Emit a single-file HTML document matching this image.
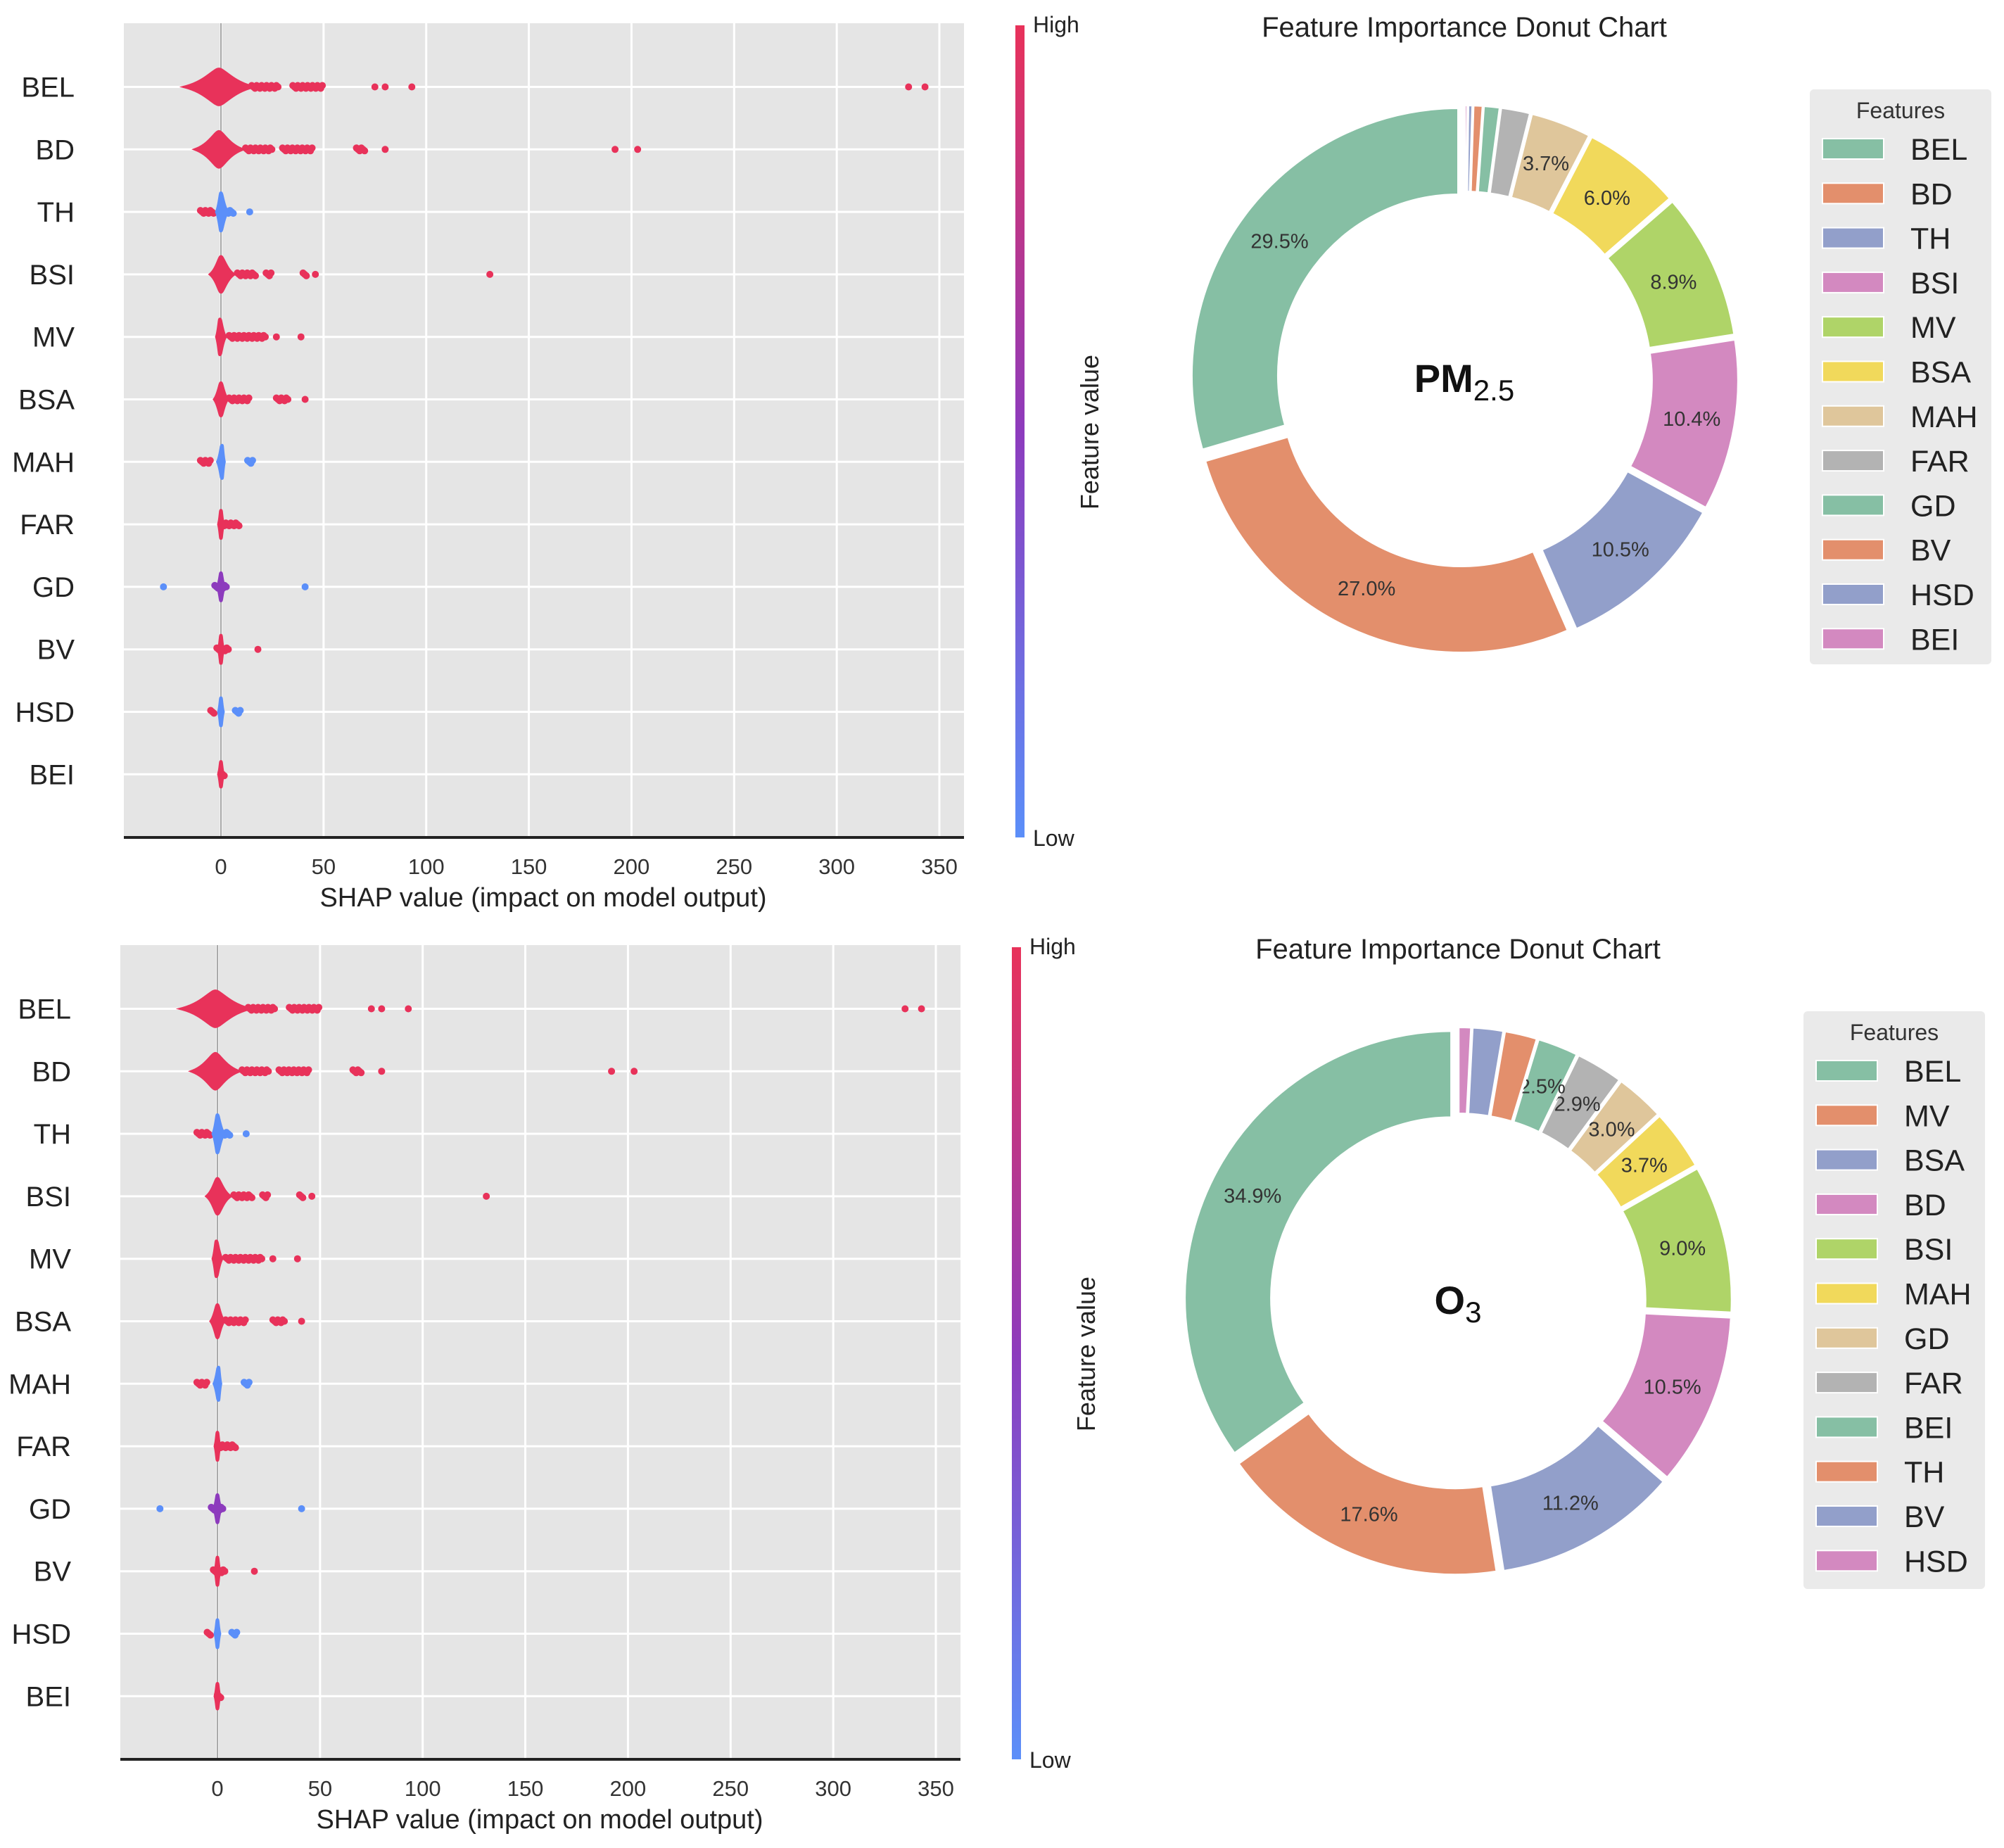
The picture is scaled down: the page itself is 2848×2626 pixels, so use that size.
<!DOCTYPE html>
<html><head><meta charset="utf-8"><style>
html,body{margin:0;padding:0;background:#fff;}
svg{display:block;font-family:"Liberation Sans",Arial,sans-serif;}
</style></head><body>
<svg id="root" width="2848" height="2626" viewBox="0 0 2848 2626" xmlns="http://www.w3.org/2000/svg">
<defs>
<linearGradient id="cbar" x1="0" y1="0" x2="0" y2="1">
<stop offset="0" stop-color="#e8325a"/><stop offset="0.5" stop-color="#8d3bbd"/><stop offset="1" stop-color="#5b8ff9"/>
</linearGradient>
</defs>
</svg>
<script>
// ---------- SHAP data ----------
const features = ["BEL","BD","TH","BSI","MV","BSA","MAH","FAR","GD","BV","HSD","BEI"];
const xTicks = [0,50,100,150,200,250,300,350];
const coreLeft  = [-17,-12,-2,-5,-2,-3,-1.5,-1,-1.5,-1,-1,-1];
const coreRight = [15,10,3,6,2,3,1.5,1,1.5,1,1,1];
const corePeak  = [-1,-1,0,0,-0.5,0,0.5,0,0,0,0,0];
const coreHeight= [0.28,0.28,0.3,0.28,0.28,0.26,0.26,0.22,0.22,0.22,0.22,0.2];
const coreColor = ["r","r","b","r","r","r","b","r","p","r","b","r"];
// tail ranges [row, start, end, color]
const tails = [
 [0,15,28,"r"],[0,35,50,"r"],[1,12,25,"r"],[1,30,45,"r"],[1,66,70,"r"],
 [2,-10,-3,"r"],[2,2,6,"b"],[3,8,17,"r"],[3,22,25,"r"],[3,40,42,"r"],
 [4,4,22,"r"],[5,4,14,"r"],[5,27,33,"r"],[6,-10,-5,"r"],[6,13,16,"b"],
 [7,0,9,"r"],[8,-3,3,"p"],[9,-2,4,"r"],[10,-5,-3,"r"],[10,7,10,"b"],[11,0,2,"r"]
];
// single outliers [row, value, color]
const outliers = [
 [0,75,"r"],[0,80,"r"],[0,93,"r"],[0,335,"r"],[0,343,"r"],
 [1,80,"r"],[1,192,"r"],[1,203,"r"],[2,14,"b"],[3,46,"r"],[3,131,"r"],
 [4,27,"r"],[4,39,"r"],[5,41,"r"],[8,-28,"b"],[8,41,"b"],[9,18,"r"]
];
// ---------- Donut data ----------
const pmLabels = ["BEL","BD","TH","BSI","MV","BSA","MAH","FAR","GD","BV","HSD","BEI"];
const pmValues = [29.5,27.0,10.5,10.4,8.9,6.0,3.7,1.8,1.0,0.6,0.3,0.2];
const o3Labels = ["BEL","MV","BSA","BD","BSI","MAH","GD","FAR","BEI","TH","BV","HSD"];
const o3Values = [34.9,17.6,11.2,10.5,9.0,3.7,3.0,2.9,2.5,2.0,1.9,0.8];
const palette = ["#86bfa4","#e38f6c","#929fca","#d389c0","#afd468","#f1d95b","#dfc69b","#b3b3b3"];

const NS="http://www.w3.org/2000/svg";
const root=document.getElementById('root');
function el(tag,attrs,parent,text){const e=document.createElementNS(NS,tag);for(const k in attrs)e.setAttribute(k,attrs[k]);if(text!==undefined)e.textContent=text;(parent||root).appendChild(e);return e;}
const COL={r:"#e8325a",b:"#5b8ff9",p:"#8d3bbd"};

function drawShap(dx,dy,idx){
  const g=el('g',{transform:`translate(${dx},${dy})`});
  
  
  const L=176,R=1370,T=33,B=1190,x0=314,x350=1335;
  const xs=v=>x0+(x350-x0)*v/350;
  const rowY=i=>123.5+i*88.8;
  const bg=el('rect',{x:L,y:T,width:R-L,height:B-T,fill:"#e5e5e5"},g);
  
  
  xTicks.forEach(t=>{
    const ln=el('line',{x1:xs(t),x2:xs(t),y1:T,y2:B,stroke:"#fff","stroke-width":3},g);
    
    
    const tx=el('text',{x:xs(t),y:1242,"font-size":31,fill:"#333","text-anchor":"middle"},g,String(t));
    
    
  });
  features.forEach((f,i)=>{
    const ln=el('line',{x1:L,x2:R,y1:rowY(i),y2:rowY(i),stroke:"#fff","stroke-width":3},g);
    
    
    const tx=el('text',{x:106,y:rowY(i)+14,"font-size":40,fill:"#222","text-anchor":"end"},g,f);
    
    
  });
  const zl=el('line',{x1:xs(0),x2:xs(0),y1:T,y2:B,stroke:"#aaa","stroke-width":2},g);
  
  
  tails.forEach(t=>{
    const y=rowY(t[0]);let k=0;
    for(let v=t[1];v<=t[2]+0.01;v+=0.8){
      const c=el('circle',{cx:xs(v),cy:y+((k%3)-1)*2,r:5,fill:COL[t[3]]},g);k++;
      
      
    }
  });
  outliers.forEach(o=>{
    const c=el('circle',{cx:xs(o[1]),cy:rowY(o[0]),r:5,fill:COL[o[2]]},g);
    
    
  });
  features.forEach((f,i)=>{
    const y=rowY(i),h=coreHeight[i]*88.8,l=xs(coreLeft[i]),r=xs(coreRight[i]),p=xs(corePeak[i]);
    const d=`M${l},${y} C${p-(p-l)*0.4},${y-h*0.3} ${p-(p-l)*0.15},${y-h} ${p},${y-h} C${p+(r-p)*0.15},${y-h} ${p+(r-p)*0.4},${y-h*0.3} ${r},${y} C${p+(r-p)*0.4},${y+h*0.3} ${p+(r-p)*0.15},${y+h} ${p},${y+h} C${p-(p-l)*0.15},${y+h} ${p-(p-l)*0.4},${y+h*0.3} ${l},${y}Z`;
    const pa=el('path',{d:d,fill:COL[coreColor[i]],stroke:COL[coreColor[i]],"stroke-width":5},g);
    
    
  });
  const ax=el('line',{x1:L,x2:R,y1:B,y2:B,stroke:"#222","stroke-width":4},g);
  
  
  const xl=el('text',{x:772,y:1288,"font-size":38,fill:"#222","text-anchor":"middle"},g,"SHAP value (impact on model output)");
  
  
  const cb=el('rect',{x:1443,y:36,width:13,height:1154,fill:"url(#cbar)"},g);
  
  
  const hi=el('text',{x:1468,y:46,"font-size":32,fill:"#222"},g,"High");
  
  
  const lo=el('text',{x:1468,y:1202,"font-size":32,fill:"#222"},g,"Low");
  
  
  const fv=el('text',{x:0,y:0,"font-size":36,fill:"#222","text-anchor":"middle",transform:"translate(1561,614) rotate(-90)"},g,"Feature value");
  
  
}

function drawDonut(cx,cy,labels,values,centerMain,centerSub,title,titleY,leg,idx){
  const g=el('g',{});
  
  
  const tt=el('text',{x:cx,y:titleY,"font-size":40,fill:"#222","text-anchor":"middle"},g,title);
  
  
  const Ro=380,Ri=256,total=values.reduce((a,b)=>a+b,0);
  let a0=90;
  values.forEach((v,i)=>{
    const sweep=v/total*360,a1=a0+sweep,mid=(a0+a1)/2*Math.PI/180;
    const ex=10,ox=cx+ex*Math.cos(mid),oy=cy-ex*Math.sin(mid);
    const r0=a0*Math.PI/180,r1=a1*Math.PI/180,large=sweep>180?1:0;
    const P=(r,a)=>[ox+r*Math.cos(a),oy-r*Math.sin(a)];
    const [x1,y1]=P(Ro,r0),[x2,y2]=P(Ro,r1),[x3,y3]=P(Ri,r1),[x4,y4]=P(Ri,r0);
    const d=`M${x1},${y1} A${Ro},${Ro} 0 ${large} 0 ${x2},${y2} L${x3},${y3} A${Ri},${Ri} 0 ${large} 1 ${x4},${y4}Z`;
    const s=el('path',{d:d,fill:palette[i%8],stroke:"#fff","stroke-width":4},g);
    
    
    if(v>=2.5){
      const rm=(Ro+Ri)/2;
      const t=el('text',{x:ox+rm*Math.cos(mid),y:oy-rm*Math.sin(mid)+10,"font-size":29,fill:"#333","text-anchor":"middle"},g,v.toFixed(1)+"%");
      
      
    }
    a0=a1;
  });
  const ct=el('text',{x:cx,y:cy+18,"font-size":56,fill:"#111","text-anchor":"middle"},g);
  
  
  el('tspan',{"font-weight":"bold"},ct,centerMain);
  el('tspan',{"font-size":42,dy:12},ct,centerSub);
  const lg=el('g',{},g);
  
  
  el('rect',{x:leg.x,y:leg.y,width:258,height:leg.h,fill:"#eaeaea",rx:6},lg);
  const lt=el('text',{x:leg.x+129,y:leg.ty,"font-size":32,fill:"#333","text-anchor":"middle"},lg,"Features");
  
  
  labels.forEach((lab,i)=>{
    const y=leg.y0+i*leg.step;
    const e=el('g',{},lg);
    
    
    el('rect',{x:leg.x+18,y:y-15,width:87,height:29,fill:palette[i%8],stroke:"#fff","stroke-width":2},e);
    el('text',{x:leg.x+143,y:y+15,"font-size":43,fill:"#222"},e,lab);
  });
}

drawShap(0,0,1);
drawShap(-5,1310,2);
drawDonut(2081,539,pmLabels,pmValues,"PM","2.5","Feature Importance Donut Chart",52,
  {x:2572,y:127,h:817,ty:168,y0:212,step:63.3},1);
drawDonut(2072,1849,o3Labels,o3Values,"O","3","Feature Importance Donut Chart",1362,
  {x:2563,y:1437,h:821,ty:1478,y0:1522,step:63.3},2);
</script>
</body></html>
